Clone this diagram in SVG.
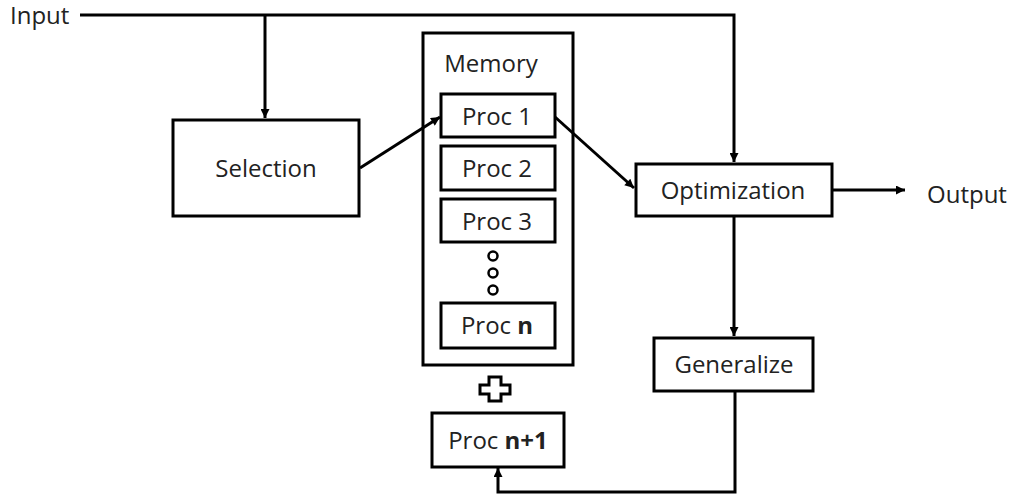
<svg xmlns="http://www.w3.org/2000/svg" width="1013" height="496" viewBox="0 0 1013 496">
<defs>
<marker id="ah" viewBox="0 0 10 10" refX="10" refY="5" markerWidth="11" markerHeight="9" markerUnits="userSpaceOnUse" orient="auto">
<path d="M0,0 L10,5 L0,10 Z" fill="#000"/>
</marker>
<style>
.box{fill:#fff;stroke:#000;stroke-width:3}
.ln{fill:none;stroke:#000;stroke-width:3}
.t{font-family:"Open Sans","Noto Sans",sans-serif;font-size:24px;fill:#222}
.m{text-anchor:middle}
.b{font-weight:bold}
</style>
</defs>
<rect width="1013" height="496" fill="#fff"/>
<g id="input"><text class="t" x="10" y="24">Input</text></g>
<g id="output"><text class="t" x="927" y="203">Output</text></g>
<g id="selection">
<rect class="box" x="173" y="120" width="186" height="96"/>
<text class="t m" x="266" y="177">Selection</text>
</g>
<g id="memory">
<rect class="box" x="423" y="33" width="150" height="332"/>
<text class="t m" x="491" y="72">Memory</text>
</g>
<g id="proc1">
<rect class="box" x="441" y="94" width="114" height="43"/>
<text class="t m" x="497" y="125">Proc 1</text>
</g>
<g id="proc2">
<rect class="box" x="441" y="146" width="114" height="44"/>
<text class="t m" x="497" y="177">Proc 2</text>
</g>
<g id="proc3">
<rect class="box" x="441" y="199" width="114" height="43"/>
<text class="t m" x="497" y="230">Proc 3</text>
</g>
<g id="dots" fill="none" stroke="#000" stroke-width="2.5">
<circle cx="493" cy="256" r="4.5"/>
<circle cx="493" cy="273" r="4.5"/>
<circle cx="493" cy="290" r="4.5"/>
</g>
<g id="procn">
<rect class="box" x="441" y="303" width="114" height="45"/>
<text class="t m" x="497" y="334">Proc <tspan class="b">n</tspan></text>
</g>
<g id="plus">
<path d="M489,377 H501 V385 H510 V394 H501 V401 H489 V394 H480 V385 H489 Z" fill="#fff" stroke="#000" stroke-width="3" stroke-linejoin="miter"/>
</g>
<g id="procn1">
<rect class="box" x="432" y="413" width="132" height="54"/>
<text class="t m" x="498" y="449">Proc <tspan class="b">n+1</tspan></text>
</g>
<g id="optimization">
<rect class="box" x="636" y="164" width="196" height="52"/>
<text class="t m" x="733" y="199">Optimization</text>
</g>
<g id="generalize">
<rect class="box" x="654" y="338" width="159" height="53"/>
<text class="t m" x="734" y="373">Generalize</text>
</g>
<g id="connectors">
<path class="ln" d="M80,15 H734 V162" marker-end="url(#ah)"/>
<path class="ln" d="M265,15 V118" marker-end="url(#ah)"/>
<path class="ln" d="M360,168 L440,117" marker-end="url(#ah)"/>
<path class="ln" d="M555,117 L634,188" marker-end="url(#ah)"/>
<path class="ln" d="M832,190 H905" marker-end="url(#ah)"/>
<path class="ln" d="M734,216 V336" marker-end="url(#ah)"/>
<path class="ln" d="M735,391 V492 H498 V468" marker-end="url(#ah)"/>
</g>
</svg>
